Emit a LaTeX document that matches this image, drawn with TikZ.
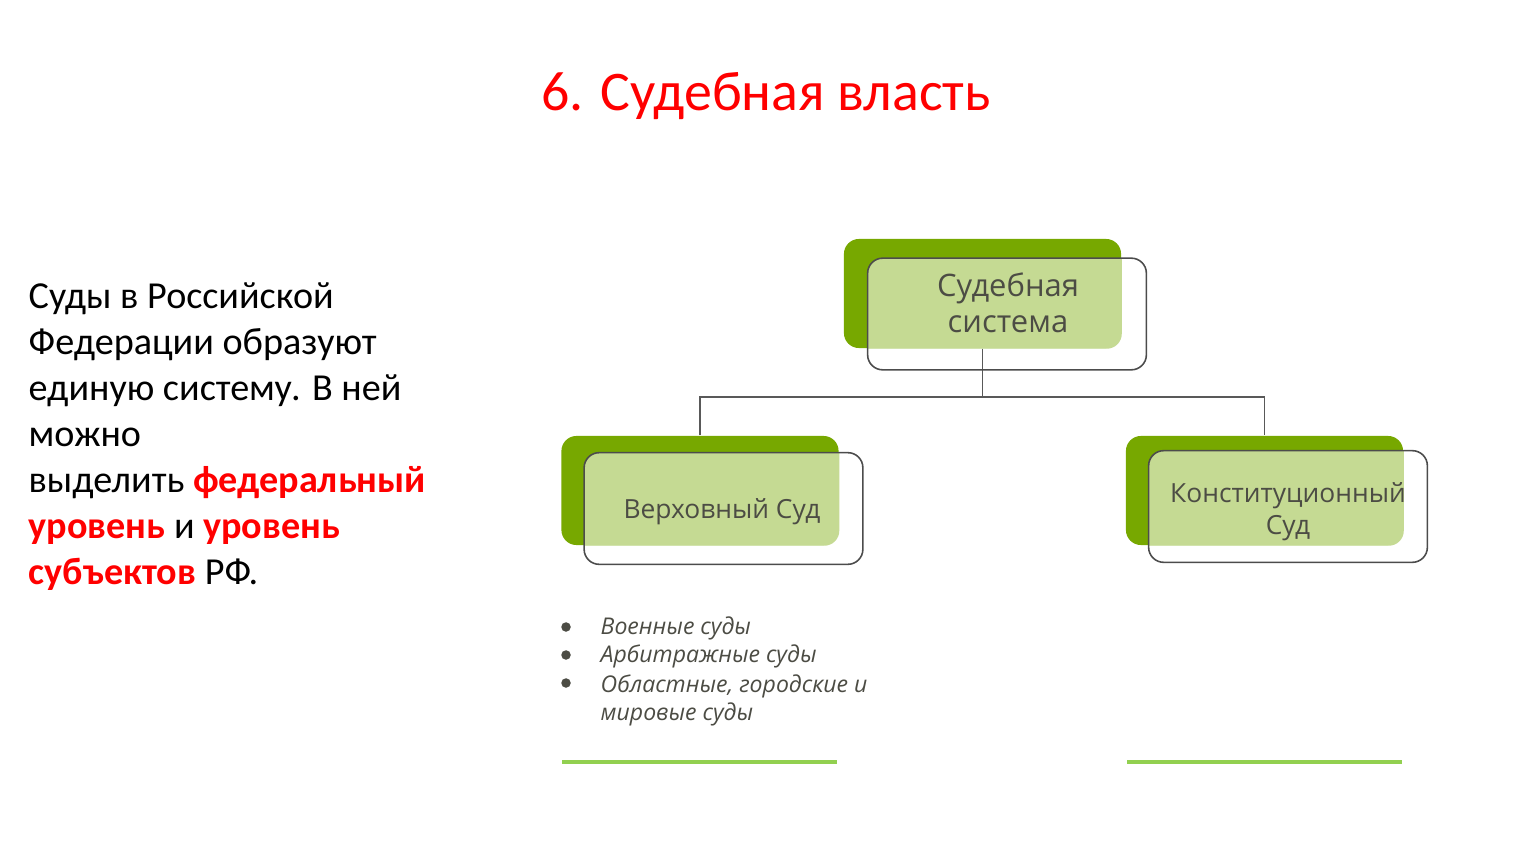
\documentclass[tikz,border=0pt]{standalone}
\usepackage{fontspec}
\setmainfont{Carlito}
\newfontfamily\osans{Open Sans}
\definecolor{dgreen}{HTML}{77A800}
\definecolor{lgreen}{HTML}{C5DA93}
\definecolor{tgray}{HTML}{4C4C44}
\definecolor{lineg}{HTML}{92D050}
\definecolor{tred}{HTML}{FF0000}
\begin{document}
\begin{tikzpicture}[x=0.01cm,y=-0.01cm,
  gbox/.style={fill=dgreen, rounded corners=0.15cm, minimum width=2.77cm, minimum height=1.09cm, inner sep=0pt, draw=none},
  obox/.style={draw=black!70, line width=0.45pt, rounded corners=0.15cm, minimum width=2.77cm, minimum height=1.10cm, inner sep=0pt},
  btext/.style={text=tgray, font=\osans\fontsize{7.5}{9.1}\selectfont, align=center, inner sep=0pt},
  conn/.style={draw=black!65, line width=0.45pt},
  bul/.style={circle, fill=tgray, inner sep=0pt, minimum size=0.095cm},
  ltext/.style={text=tgray, font=\osans\itshape\fontsize{6.55}{8}\selectfont, anchor=west, inner sep=0pt, align=left},
  gline/.style={draw=lineg, line width=1.0pt}
]
\useasboundingbox[fill=white] (0,0) rectangle (1533,864);

% title
\node[text=tred, font=\fontsize{15.9}{18}\selectfont, inner sep=0pt] (title) at (766,96) {6. Судебная власть};

% left text
\node[anchor=north west, align=left, inner sep=0pt, font=\fontsize{10.85}{13.1}\selectfont] (intro) at (28,282)
{Суды в Российской\\
Федерации образуют\\
единую систему. В ней\\
можно\\
выделить \textcolor{tred}{\bfseries федеральный}\\
\textcolor{tred}{\bfseries уровень} и \textcolor{tred}{\bfseries уровень}\\
\textcolor{tred}{\bfseries субъектов} РФ.};

% boxes
\node[gbox] (top) at (982.5,293.5) {};
\node[gbox] (left) at (700,490.5) {};
\node[gbox] (right) at (1264.5,490.5) {};

\node[obox, draw=none] (topo) at (1007,314) {};
\node[obox, draw=none] (lefto) at (723.5,508.5) {};
\node[obox, draw=none] (righto) at (1288,506.5) {};

\foreach \g/\o in {top/topo, left/lefto, right/righto}{
  \begin{scope}
    \clip[rounded corners=0.15cm] (\o.south west) rectangle (\o.north east);
    \fill[lgreen, rounded corners=0.15cm] (\g.south west) rectangle (\g.north east);
  \end{scope}
}

% connectors
\coordinate (j) at (982.5,397);
\draw[conn] (top.south) -- (j);
\draw[conn] (left.north) |- (j) -| (right.north);

\foreach \o in {topo, lefto, righto}{
  \draw[black!70, line width=0.45pt, rounded corners=0.15cm] (\o.south west) rectangle (\o.north east);
}

% box texts
\node[btext, font=\osans\fontsize{8.8}{10.2}\selectfont] (toptext) at (1008,303) {Судебная\\система};
\node[btext] (lefttext) at (722,512) {Верховный Суд};
\node[btext] (righttext) at (1288,512) {Конституционный\\Суд};

% bullets
\node[bul] (b1) at (566,627) {};
\node[bul] (b2) at (566,655) {};
\node[bul] (b3) at (566,683) {};
\node[ltext] (l1) at (600,628) {Военные суды};
\node[ltext] (l2) at (600,656) {Арбитражные суды};
\node[ltext, anchor=north west] (l3) at (600,674) {Областные, городские и\\мировые суды};

% green lines
\coordinate (g1a) at (562,762);
\coordinate (g1b) at (837,762);
\coordinate (g2a) at (1127,762);
\coordinate (g2b) at (1402,762);
\draw[gline] (g1a) -- (g1b);
\draw[gline] (g2a) -- (g2b);
\end{tikzpicture}
\end{document}
